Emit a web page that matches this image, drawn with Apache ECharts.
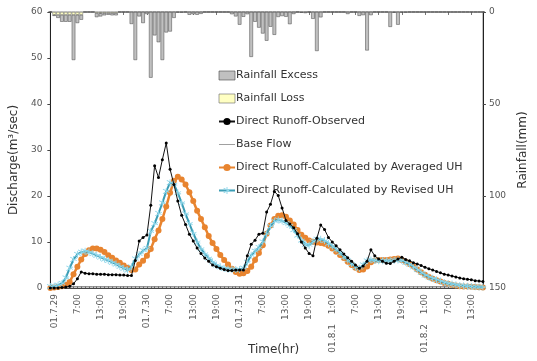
<!DOCTYPE html>
<html>
<head>
<meta charset="utf-8">
<script src="https://cdn.jsdelivr.net/npm/echarts@6/dist/echarts.min.js"></script>
<style>
  html, body { margin: 0; background: #fff; }
  #chart { width: 537px; height: 361px; }
</style>
</head>
<body>
<div id="chart"></div>
<script>
// hourly steps from 01.7.29 0:00 to 01.8.2 16:00
const days = ['01.7.29', '01.7.30', '01.7.31', '01.8.1', '01.8.2'];
const firstRowDays = ['01.7.29', '01.7.30', '01.7.31'];
const secondRowDays = ['01.8.1', '01.8.2'];
const hourCount = 113;
const hours = [];
for (let i = 0; i < hourCount; i++) {
    hours.push(days[Math.floor(i / 24)] + ' ' + (i % 24) + ':00');
}

// rainfall (mm), one value per hour
const rainLoss = [
    0, 1.6, 1.6, 1.6, 1.6, 1.6, 1.6, 1.6, 1.6, 0,
    0, 0, 0.6, 0.6, 0.6, 0.6, 0.6, 0.6, 0, 0,
    0, 0, 0, 0, 0, 0, 0, 0, 0, 0,
    0, 0, 0, 0, 0, 0, 0, 0, 0, 0,
    0, 0, 0, 0, 0, 0, 0, 0, 0, 0,
    0, 0, 0, 0, 0, 0, 0, 0, 0, 0,
    0, 0, 0, 0, 0, 0, 0, 0, 0, 0,
    0, 0, 0, 0, 0, 0, 0, 0, 0, 0,
    0, 0, 0, 0, 0, 0, 0, 0, 0, 0,
    0, 0, 0, 0, 0, 0, 0, 0, 0, 0,
    0, 0, 0, 0, 0, 0, 0, 0, 0, 0,
    0, 0, 0
];
const rainExcess = [
    0, 0.5, 1.6, 3.7, 3.7, 3.7, 24.5, 4.4, 2.6, 0,
    0, 0, 2.2, 1.8, 1.2, 0.9, 1.2, 1.2, 0, 0,
    0, 6.5, 26.1, 2.4, 6.0, 1.1, 35.7, 12.7, 16.4, 26.1,
    11.1, 10.6, 3.2, 0.2, 0.2, 0, 1.5, 1.2, 1.5, 1.0,
    0, 0, 0, 0, 0, 0, 0, 1.2, 2.4, 6.9,
    2.6, 1.2, 24.4, 5.3, 8.5, 11.7, 15.6, 8.0, 12.4, 2.7,
    2.2, 2.6, 6.6, 1.1, 0, 0.4, 0.6, 0, 3.7, 21.2,
    2.9, 0, 0, 0, 0, 0, 0, 1.1, 0, 0,
    2.1, 1.7, 20.9, 1.7, 0, 0, 0, 0, 8.1, 0.3,
    6.9, 0.2, 0.2, 0, 0, 0, 0, 0, 0, 0,
    0, 0, 0, 0, 0, 0, 0, 0, 0, 0,
    0, 0, 0
];

// discharge (m3/sec)
const observed = [
    0, 0, 0, 0.1, 0.2, 0.4, 0.9, 2.0, 3.5, 3.2,
    3.1, 3.1, 3.0, 3.0, 3.0, 2.9, 2.9, 2.9, 2.8, 2.8,
    2.7, 2.7, 6.0, 10.2, 11.0, 11.5, 18.0, 26.6, 24.0, 27.9,
    31.5, 25.8, 22.5, 18.9, 15.8, 13.8, 11.7, 10.2, 8.7, 7.5,
    6.5, 5.8, 5.0, 4.6, 4.3, 4.0, 3.8, 3.8, 3.9, 3.9,
    3.9, 7.0, 9.5, 10.4, 11.7, 11.9, 16.5, 18.2, 21.0, 20.1,
    17.4, 14.7, 13.9, 13.1, 11.8, 10.0, 8.7, 7.5, 7.0, 10.8,
    13.7, 12.7, 11.0, 10.0, 9.2, 8.3, 7.4, 6.6, 5.8, 5.0,
    4.3, 4.8, 5.8, 8.3, 7.0, 6.3, 5.8, 5.4, 5.3, 5.8,
    6.3, 6.7, 6.2, 5.9, 5.5, 5.2, 4.9, 4.5, 4.2, 3.9,
    3.6, 3.3, 3.0, 2.8, 2.6, 2.4, 2.2, 2.0, 1.9, 1.8,
    1.6, 1.5, 1.4
];
const baseFlow = [
    0.3, 0.3, 0.3, 0.3, 0.3, 0.3, 0.3, 0.3, 0.3, 0.3,
    0.3, 0.3, 0.3, 0.3, 0.3, 0.3, 0.3, 0.3, 0.3, 0.3,
    0.3, 0.3, 0.3, 0.3, 0.3, 0.3, 0.3, 0.3, 0.3, 0.3,
    0.3, 0.3, 0.3, 0.3, 0.3, 0.3, 0.3, 0.3, 0.3, 0.3,
    0.3, 0.3, 0.3, 0.3, 0.3, 0.3, 0.3, 0.3, 0.3, 0.3,
    0.3, 0.3, 0.3, 0.3, 0.3, 0.3, 0.3, 0.3, 0.3, 0.3,
    0.3, 0.3, 0.3, 0.3, 0.3, 0.3, 0.3, 0.3, 0.3, 0.3,
    0.3, 0.3, 0.3, 0.3, 0.3, 0.3, 0.3, 0.3, 0.3, 0.3,
    0.3, 0.3, 0.3, 0.3, 0.3, 0.3, 0.3, 0.3, 0.3, 0.3,
    0.3, 0.3, 0.3, 0.3, 0.3, 0.3, 0.3, 0.3, 0.3, 0.3,
    0.3, 0.3, 0.3, 0.3, 0.3, 0.3, 0.3, 0.3, 0.3, 0.3,
    0.3, 0.3, 0.3
];
const averagedUH = [
    0, 0.1, 0.2, 0.4, 0.7, 1.3, 3.0, 4.6, 6.2, 7.4,
    8.2, 8.6, 8.6, 8.3, 7.8, 7.1, 6.6, 6.0, 5.5, 4.9,
    4.4, 3.9, 4.0, 5.1, 5.9, 7.0, 8.5, 10.6, 12.5, 15.0,
    17.7, 20.7, 23.3, 24.2, 23.6, 22.5, 20.8, 18.9, 16.8, 15.0,
    13.2, 11.3, 9.8, 8.5, 7.2, 6.1, 5.1, 4.2, 3.5, 3.1,
    3.2, 3.7, 4.6, 6.1, 7.6, 9.3, 11.8, 13.6, 15.0, 15.7,
    15.8, 15.5, 14.7, 13.8, 12.6, 11.6, 10.9, 10.3, 10.0, 9.9,
    9.8, 9.6, 9.2, 8.6, 7.9, 7.2, 6.5, 5.7, 5.0, 4.4,
    3.9, 4.0, 4.7, 5.6, 6.0, 6.1, 6.1, 6.1, 6.2, 6.3,
    6.4, 6.1, 5.7, 5.2, 4.7, 4.0, 3.4, 2.9, 2.4, 2.0,
    1.7, 1.4, 1.1, 0.9, 0.7, 0.55, 0.4, 0.35, 0.3, 0.25,
    0.2, 0.15, 0.1
];
const revisedUH = [
    0.3, 0.4, 0.6, 1.0, 2.2, 4.3, 6.2, 7.3, 7.8, 8.0,
    7.8, 7.5, 7.1, 6.7, 6.3, 6.0, 5.6, 5.2, 4.7, 4.3,
    3.9, 4.6, 6.3, 7.3, 8.1, 8.6, 12.3, 14.0, 16.2, 18.5,
    21.0, 22.9, 22.6, 20.7, 18.5, 16.1, 14.0, 11.9, 10.0, 8.5,
    7.4, 6.5, 5.7, 5.0, 4.6, 4.3, 4.1, 4.0, 4.0, 4.0,
    4.3, 5.6, 7.1, 8.0, 8.8, 10.0, 11.8, 13.4, 14.5, 14.8,
    14.6, 14.2, 13.6, 12.7, 11.5, 10.4, 9.5, 9.3, 10.1, 10.6,
    10.6, 10.3, 9.7, 9.1, 8.4, 7.7, 6.8, 6.1, 5.3, 4.6,
    4.3, 5.0, 5.9, 6.1, 6.0, 5.9, 5.9, 5.9, 5.9, 6.0,
    6.1, 6.0, 5.6, 5.2, 4.6, 4.0, 3.4, 2.8, 2.4, 2.1,
    1.8, 1.5, 1.2, 1.0, 0.85, 0.7, 0.57, 0.5, 0.4, 0.32,
    0.27, 0.22, 0.2
];

const FONT = 'DejaVu Sans';
const asterisk = 'path://M4.4,0h1.2v10h-1.2z M0.3,2.2l0.6,-1l8.8,5.1l-0.6,1z M0.3,7.8l8.8,-5.1l0.6,1l-8.8,5.1z';
const flatLine = 'path://M0,4.5h20v1h-20z';

// every 6 hours, starting at 1:00
const isMajor = (i) => i % 6 === 1;

const chart = echarts.init(document.getElementById('chart'));
chart.setOption({
    animation: false,
    textStyle: { fontFamily: FONT },
    grid: {
        left: 46, right: 36, top: 12, bottom: 65,
        show: true, borderColor: '#999', borderWidth: 1
    },
    legend: {
        orient: 'vertical',
        left: 213, top: 65,
        itemWidth: 16, itemHeight: 9, itemGap: 12,
        itemStyle: { borderWidth: 0.6 },
        textStyle: { fontFamily: FONT, fontSize: 11, color: '#333', padding: [0, 0, 0, -4] },
        data: [
            { name: 'Rainfall Excess', icon: 'rect' },
            { name: 'Rainfall Loss', icon: 'rect' },
            'Direct Runoff-Observed',
            { name: 'Base Flow', icon: flatLine },
            'Direct Runoff-Calculated by Averaged UH',
            'Direct Runoff-Calculated by Revised UH'
        ]
    },
    xAxis: [
        {
            type: 'category',
            data: hours,
            boundaryGap: false,
            name: 'Time(hr)',
            nameLocation: 'middle',
            nameGap: 56,
            nameTextStyle: { fontSize: 12, color: '#333', padding: [0, 0, 0, 14] },
            axisLine: { lineStyle: { color: '#444', width: 1 } },
            axisTick: { show: true, inside: true, length: 2, interval: 0, lineStyle: { color: '#666' } },
            axisLabel: {
                interval: (i) => isMajor(i),
                rotate: 90,
                margin: 6,
                fontSize: 9,
                color: '#555',
                formatter: (value, i) => {
                    const d = Math.floor(i / 24);
                    const h = i % 24;
                    if (h === 1 && firstRowDays.includes(days[d])) return days[d];
                    return h + ':00';
                }
            },
            splitLine: { show: false }
        },
        {
            type: 'category',
            data: hours,
            boundaryGap: false,
            position: 'bottom',
            axisLine: { show: false },
            axisTick: { show: true, length: 3, interval: (i) => isMajor(i), lineStyle: { color: '#777' } },
            axisLabel: {
                interval: (i) => isMajor(i),
                rotate: 90,
                margin: 36,
                fontSize: 9,
                color: '#555',
                formatter: (value, i) => {
                    const d = Math.floor(i / 24);
                    if (i % 24 === 1 && secondRowDays.includes(days[d])) return days[d];
                    return '';
                }
            },
            splitLine: { show: false }
        }
    ],
    yAxis: [
        {
            type: 'value',
            min: 0, max: 60, interval: 10,
            name: 'Discharge(m³/sec)',
            nameLocation: 'middle',
            nameGap: 26,
            nameRotate: 90,
            nameTextStyle: { fontSize: 12, color: '#333', padding: [0, 0, 0, -20] },
            axisLine: { show: true, lineStyle: { color: '#222' } },
            axisTick: { show: true, length: 3, lineStyle: { color: '#444' } },
            axisLabel: { fontSize: 9, color: '#555', margin: 8 },
            splitLine: { show: false }
        },
        {
            type: 'value',
            min: 0, max: 150, interval: 50,
            inverse: true,
            position: 'right',
            name: 'Rainfall(mm)',
            nameLocation: 'middle',
            nameGap: 22,
            nameRotate: 90,
            nameTextStyle: { fontSize: 12, color: '#333' },
            axisLine: { show: true, lineStyle: { color: '#222' } },
            axisTick: { show: true, length: 3, lineStyle: { color: '#444' } },
            axisLabel: { fontSize: 9, color: '#555', margin: 6 },
            splitLine: { show: false }
        }
    ],
    series: [
        {
            name: 'Rainfall Loss',
            type: 'bar',
            yAxisIndex: 1,
            stack: 'rain',
            data: rainLoss,
            barWidth: 3.6,
            itemStyle: { color: '#ffffc2', borderColor: '#666', borderWidth: 0.5 },
            z: 2
        },
        {
            name: 'Rainfall Excess',
            type: 'bar',
            yAxisIndex: 1,
            stack: 'rain',
            data: rainExcess,
            barWidth: 3.6,
            itemStyle: { color: '#c0c0c0', borderColor: '#444', borderWidth: 0.5 },
            z: 2
        },
        {
            name: 'Base Flow',
            type: 'line',
            data: baseFlow,
            symbol: 'none',
            lineStyle: { color: '#888', width: 1 },
            itemStyle: { color: '#888' },
            z: 3
        },
        {
            name: 'Direct Runoff-Calculated by Averaged UH',
            type: 'line',
            data: averagedUH,
            symbol: 'circle',
            symbolSize: 6,
            showAllSymbol: true,
            lineStyle: { color: '#e8842f', width: 2.5 },
            itemStyle: { color: '#e8842f' },
            z: 4
        },
        {
            name: 'Direct Runoff-Calculated by Revised UH',
            type: 'line',
            data: revisedUH,
            symbol: asterisk,
            symbolSize: 7,
            showAllSymbol: true,
            lineStyle: { color: '#3b9db5', width: 2 },
            itemStyle: { color: '#8ed6ea' },
            z: 5
        },
        {
            name: 'Direct Runoff-Observed',
            type: 'line',
            data: observed,
            symbol: 'circle',
            symbolSize: 3,
            showAllSymbol: true,
            lineStyle: { color: '#111', width: 1 },
            itemStyle: { color: '#000' },
            z: 6
        }
    ]
});

window.addEventListener('resize', () => chart.resize());
</script>
</body>
</html>
